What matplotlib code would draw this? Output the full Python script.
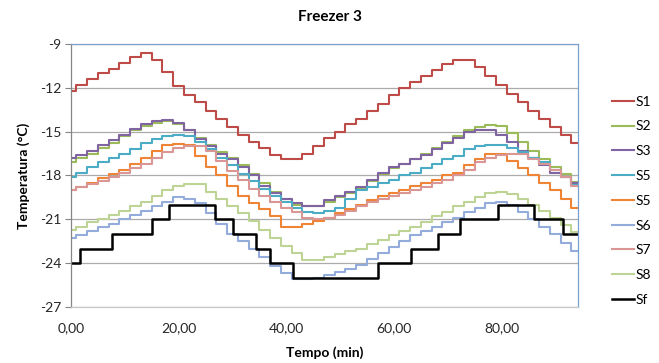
import matplotlib
matplotlib.use("Agg")
import matplotlib.pyplot as plt

# -----------------------------
# DATA
# -----------------------------

# time in minutes, one reading every 2 min
tempo = [0, 2, 4, 6, 8, 10, 12, 14, 16, 18, 20, 22, 24, 26, 28, 30,
         32, 34, 36, 38, 40, 42, 44, 46, 48, 50, 52, 54, 56, 58, 60, 62,
         64, 66, 68, 70, 72, 74, 76, 78, 80, 82, 84, 86, 88, 90, 92, 94]

s1 = [-12.2, -11.8, -11.4, -11.0, -10.7, -10.3, -9.9, -9.6, -10.1, -10.9, -11.9, -12.5,
      -13.0, -13.6, -14.1, -14.7, -15.2, -15.7, -16.1, -16.6, -16.9, -16.9, -16.5, -16.0,
      -15.4, -15.0, -14.5, -14.1, -13.6, -13.1, -12.5, -12.0, -11.6, -11.2, -10.8, -10.4,
      -10.1, -10.1, -10.6, -11.2, -11.8, -12.4, -13.0, -13.6, -14.1, -14.7, -15.2, -15.8]

s2 = [-17.1, -16.8, -16.5, -16.1, -15.8, -15.3, -14.9, -14.6, -14.4, -14.3, -14.5, -14.9,
      -15.4, -15.9, -16.4, -16.8, -17.3, -17.9, -18.5, -19.1, -19.6, -20.0, -20.1, -20.1,
      -19.8, -19.5, -19.2, -18.9, -18.4, -17.9, -17.5, -17.2, -16.9, -16.5, -16.1, -15.7,
      -15.3, -14.9, -14.7, -14.55, -14.6, -15.1, -15.7, -16.3, -16.9, -17.4, -17.9, -18.45]

s3 = [-16.8, -16.6, -16.3, -15.9, -15.6, -15.2, -14.8, -14.5, -14.3, -14.2, -14.4, -14.9,
      -15.5, -16.0, -16.5, -16.9, -17.4, -18.0, -18.7, -19.2, -19.6, -19.9, -20.1, -20.1,
      -19.7, -19.4, -19.1, -18.8, -18.3, -17.8, -17.4, -17.2, -16.9, -16.6, -16.2, -15.8,
      -15.4, -15.0, -14.9, -14.9, -15.2, -15.7, -16.3, -16.8, -17.3, -17.8, -18.1, -18.5]

s5a = [-18.1, -17.8, -17.4, -17.1, -16.8, -16.5, -16.2, -15.8, -15.5, -15.3, -15.2, -15.3,
       -15.7, -16.2, -16.8, -17.3, -17.9, -18.4, -18.9, -19.4, -19.8, -20.2, -20.5, -20.6,
       -20.4, -20.2, -19.6, -19.0, -18.8, -18.5, -18.3, -18.0, -17.8, -17.5, -17.2, -16.9,
       -16.7, -16.2, -16.0, -15.9, -15.9, -16.1, -16.4, -16.8, -17.1, -17.6, -18.1, -18.65]

s5b = [-19.0, -18.8, -18.5, -18.2, -17.9, -17.6, -17.2, -16.8, -16.3, -15.9, -15.85, -15.9,
       -16.7, -17.4, -18.0, -18.7, -19.4, -19.9, -20.3, -20.8, -21.5, -21.5, -21.3, -21.1,
       -20.9, -20.6, -20.3, -20.0, -19.7, -19.4, -19.2, -19.0, -18.7, -18.5, -18.3, -18.0,
       -17.85, -17.3, -16.9, -16.5, -16.5, -17.0, -17.5, -18.0, -18.5, -19.0, -19.6, -20.2]

s6 = [-22.3, -22.1, -21.8, -21.5, -21.3, -21.0, -20.7, -20.4, -20.1, -19.8, -19.5, -19.6,
      -19.9, -20.6, -21.3, -22.0, -22.5, -23.0, -23.6, -24.2, -24.7, -25.1, -25.1, -25.0,
      -24.8, -24.6, -24.4, -24.1, -23.7, -23.3, -22.9, -22.5, -22.1, -21.8, -21.5, -21.2,
      -20.9, -20.5, -20.2, -19.9, -19.8, -20.0, -20.5, -21.0, -21.5, -22.0, -22.6, -23.2]

s7 = [-19.0, -18.8, -18.6, -18.4, -18.1, -17.8, -17.5, -17.2, -16.8, -16.4, -16.1, -15.95,
      -15.95, -16.3, -17.0, -17.7, -18.3, -18.9, -19.4, -19.8, -20.2, -20.5, -20.9, -21.0,
      -20.9, -20.7, -20.4, -20.1, -19.8, -19.6, -19.4, -19.2, -19.0, -18.8, -18.5, -18.3,
      -18.0, -17.6, -17.1, -16.8, -16.6, -16.5, -16.5, -16.9, -17.2, -17.6, -18.1, -18.7]

s8 = [-21.7, -21.5, -21.2, -21.0, -20.7, -20.4, -20.1, -19.8, -19.4, -19.0, -18.7, -18.55,
      -18.6, -19.1, -19.6, -20.1, -20.6, -21.1, -21.7, -22.3, -22.8, -23.3, -23.8, -23.8,
      -23.6, -23.4, -23.2, -23.0, -22.7, -22.4, -22.1, -21.8, -21.5, -21.2, -20.8, -20.5,
      -20.1, -19.8, -19.5, -19.2, -19.1, -19.3, -19.6, -20.0, -20.4, -20.9, -21.4, -21.9]

# set point (Sf) changes
sf_tempo = [0, 1.7, 7.6, 15.0, 18.2, 26.7, 30.1, 34.4, 37.0, 41.3,
            57.0, 63.2, 68.2, 72.3, 79.4, 86.0, 91.5, 94.2]
sf = [-24, -23, -22, -21, -20, -21, -22, -23, -24, -25,
      -24, -23, -22, -21, -20, -21, -22, -22]

series = [
    ("S1", s1, "#BE4B48"),
    ("S2", s2, "#9BBB59"),
    ("S3", s3, "#8064A2"),
    ("S5", s5a, "#4BACC6"),
    ("S5", s5b, "#EE8434"),
    ("S6", s6, "#93ACDB"),
    ("S7", s7, "#D99694"),
    ("S8", s8, "#BDD495"),
]

y_ticks = [-27, -24, -21, -18, -15, -12, -9]
x_ticks = [0, 20, 40, 60, 80]
x_labels = ["0,00", "20,00", "40,00", "60,00", "80,00"]

# -----------------------------
# CHART
# -----------------------------

plt.rcParams["font.family"] = ["Lato", "DejaVu Sans"]

fig = plt.figure(figsize=(6.59, 3.63), dpi=100)
ax = fig.add_axes([0.1077, 0.1543, 0.7693, 0.7245])

for name, vals, col in series:
    ax.plot(tempo, vals, color=col, lw=1.5, drawstyle="steps-mid", label=name)

ax.plot(sf_tempo, sf, color="black", lw=1.8, drawstyle="steps-post", label="Sf")

ax.set_xlim(0, 94.2)
ax.set_ylim(-27, -9)
ax.set_yticks(y_ticks)
ax.set_yticklabels([str(v) for v in y_ticks], fontsize=10, color="#262626")
ax.set_xticks(x_ticks)
ax.set_xticklabels(x_labels, fontsize=10, color="#262626")

ax.grid(axis="y", color="#ABABAB", lw=0.9)
ax.set_axisbelow(True)
ax.tick_params(axis="y", length=4, color="#868686", pad=3)
ax.tick_params(axis="x", length=0, pad=11)

ax.spines["left"].set_color("#868686")
ax.spines["bottom"].set_color("#C8C8C8")
ax.spines["top"].set_color("#7BA0D0")
ax.spines["right"].set_color("#7BA0D0")
for s in ax.spines.values():
    s.set_linewidth(0.9)

fig.text(0.5, 0.952, "Freezer 3", ha="center", va="center",
         fontsize=11, fontweight="bold")
ax.set_xlabel("Tempo (min)", fontsize=10, fontweight="bold", labelpad=9)
ax.set_ylabel("Temperatura (°C)", fontsize=10, fontweight="bold", labelpad=7)

fig.legend(loc="center left", bbox_to_anchor=(0.918, 0.447), frameon=False,
           fontsize=10, handlelength=1.6, handletextpad=0.1,
           labelspacing=0.92, borderpad=0)

fig.savefig("out.png", dpi=100)
